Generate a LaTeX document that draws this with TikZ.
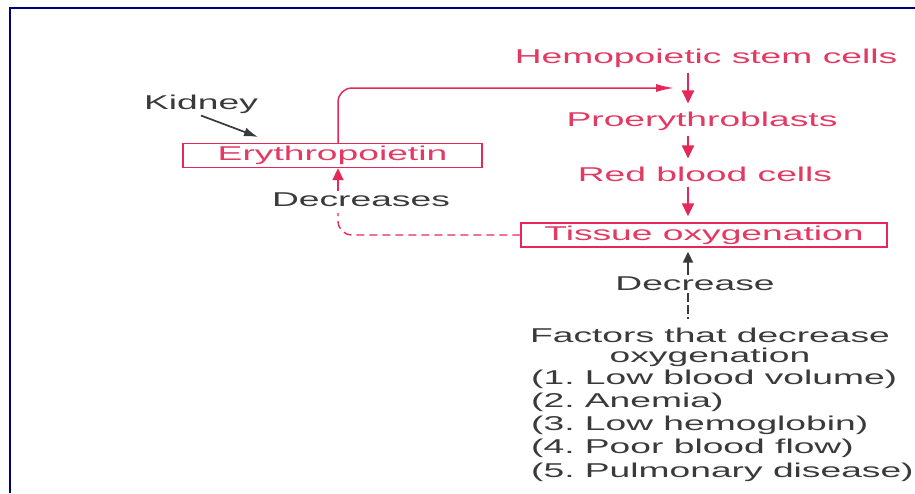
\documentclass[tikz,border=0pt]{standalone}
\usepackage{fontspec}
\setmainfont[FakeStretch=1.86]{Liberation Sans}
\usetikzlibrary{arrows.meta,positioning}
\definecolor{bloodred}{RGB}{230,40,88}
\definecolor{bloodtxt}{RGB}{226,58,98}
\definecolor{inkgray}{RGB}{58,58,58}
\definecolor{frameblue}{RGB}{0,0,120}
\frenchspacing

\begin{document}
\begin{tikzpicture}[x=1pt, y=-1pt,
txt/.style={font=\fontsize{20}{24}\selectfont, inner sep=2pt},
stage/.style={txt, text=bloodtxt},
box/.style={stage, draw=bloodred, line width=1.4pt, minimum height=24pt, inner sep=0pt},
note/.style={txt, text=inkgray},
flow/.style={-{Triangle[width=12pt,length=13pt]}, draw=bloodred, line width=2pt,
              shorten >=6pt, shorten <=3pt},
feed/.style={-{Latex[width=8pt,length=18pt]}, draw=bloodred, line width=1.5pt, rounded corners=14pt},
back/.style={draw=bloodred, line width=1.4pt, dash pattern=on 8pt off 5pt, rounded corners=14pt},
rise/.style={-{Triangle[width=11pt,length=12pt]}, draw=bloodred, line width=2pt},
kin/.style={-{Latex[width=9pt,length=14pt]}, draw=inkgray, line width=1.7pt},
push/.style={-{Triangle[width=10pt,length=11pt]}, draw=inkgray, line width=1.8pt, shorten >=4pt},
gap/.style={draw=inkgray, line width=1.5pt, dash pattern=on 9pt off 3pt, shorten >=6pt},
]
\useasboundingbox (0,0) rectangle (915,493);
\draw[frameblue, line width=2.2pt] (10,493) -- (10,8) -- (915,8);

% production chain
\node[stage] (hsc) at (706,58) {Hemopoietic stem cells};
\node[stage] (pro) at (702,121) {Proerythroblasts};
\node[stage] (rbc) at (705,174) {Red blood cells};
\node[box, minimum width=366pt] (tox) at (704,235) {Tissue oxygenation};

% hormone side
\node[note] (kid) at (201,104) {Kidney};
\node[box, minimum width=299pt] (epo) at (332.5,155.5) {Erythropoietin};
\node[note] (dec1) at (361,200) {Decreases};

% factors
\node[note] (dec2) at (695,284) {Decrease};
\node[note] (f0) at (710,335) {Factors that decrease};
\node[note] (f1) at (710,357) {oxygenation};
\foreach \t [count=\i] in {{(1. Low blood volume)},{(2. Anemia)},{(3. Low hemoglobin)},
                           {(4. Poor blood flow)},{(5. Pulmonary disease)}}
  \node[note, anchor=west, inner sep=0pt] (l\i) at (531,356+23.2*\i) {\t};

\coordinate (axis) at (688,0);
\coordinate (lane) at (338,0);
\coordinate (hit) at (674,88);
\coordinate (fb) at (338,213);
\coordinate (ktip) at (258,137);

\draw[flow] (hsc.south -| axis) -- (pro.north -| axis);
\draw[flow] (pro.south -| axis) -- (rbc.north -| axis);
\draw[flow] (rbc.south -| axis) -- (tox.north -| axis);
\draw[feed] (epo.north -| lane) |- (hit);
\draw[kin] (kid.south) -- (ktip);
\draw[back] (tox.west) -| (fb);
\draw[rise] (dec1.north -| lane) -- (epo.south -| lane);
\draw[push] (dec2.north -| axis) -- (tox.south -| axis);
\draw[gap] (dec2.south -| axis) -- (f0.north -| axis);
\end{tikzpicture}
\end{document}
